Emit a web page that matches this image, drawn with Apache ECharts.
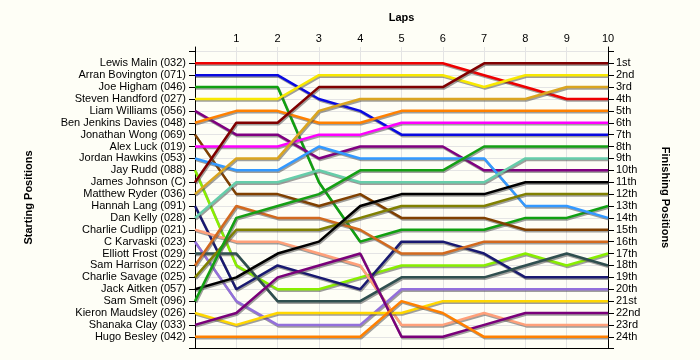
<!DOCTYPE html>
<html>
<head>
<meta charset="utf-8">
<script src="https://cdn.jsdelivr.net/npm/echarts@6/dist/echarts.min.js"></script>
<style>
html,body{margin:0;padding:0;background:#fefef6;}
#chart{width:700px;height:360px;}
</style>
</head>
<body>
<div id="chart"></div>
<script>
const laps = [0,1,2,3,4,5,6,7,8,9,10];
const startNames = [
  'Lewis Malin (032)','Arran Bovington (071)','Joe Higham (046)','Steven Handford (027)',
  'Liam Williams (056)','Ben Jenkins Davies (048)','Jonathan Wong (069)','Alex Luck (019)',
  'Jordan Hawkins (053)','Jay Rudd (088)','James Johnson (C)','Matthew Ryder (036)',
  'Hannah Lang (091)','Dan Kelly (028)','Charlie Cudlipp (021)','C Karvaski (023)',
  'Elliott Frost (029)','Sam Harrison (022)','Charlie Savage (025)','Jack Aitken (057)',
  'Sam Smelt (096)','Kieron Maudsley (026)','Shanaka Clay (033)','Hugo Besley (042)'
];
const finishLabels = ['1st','2nd','3rd','4th','5th','6th','7th','8th','9th','10th','11th','12th',
  '13th','14th','15th','16th','17th','18th','19th','20th','21st','22nd','23rd','24th'];

// positions per lap (lap 0 .. lap 10)
const lewisMalin      = [1,1,1,1,1,1,1,2,3,4,4];
const arranBovington  = [2,2,2,4,5,7,7,7,7,7,7];
const joeHigham       = [3,3,3,11,16,15,15,15,14,14,13];
const stevenHandford  = [4,4,4,2,2,2,2,3,2,2,2];
const liamWilliams    = [5,7,7,9,8,8,8,10,10,10,10];
const benJenkins      = [6,5,5,6,6,5,5,5,5,5,5];
const jonathanWong    = [7,12,12,13,12,14,14,14,15,15,15];
const alexLuck        = [8,8,8,7,7,6,6,6,6,6,6];
const jordanHawkins   = [9,10,10,8,9,9,9,9,13,13,14];
const jayRudd         = [10,18,20,20,19,18,18,18,17,18,17];
const jamesJohnson    = [11,6,6,3,3,3,3,1,1,1,1];
const matthewRyder    = [12,9,9,5,4,4,4,4,4,3,3];
const hannahLang      = [13,20,18,19,20,16,16,17,19,19,19];
const danKelly        = [14,11,11,10,11,11,11,11,9,9,9];
const charlieCudlipp  = [15,16,16,17,18,23,23,22,23,23,23];
const cKarvaski       = [16,21,23,23,23,20,20,20,20,20,20];
const elliottFrost    = [17,17,21,21,21,19,19,19,18,17,18];
const samHarrison     = [18,13,14,14,15,17,17,16,16,16,16];
const charlieSavage   = [19,15,15,15,14,13,13,13,12,12,12];
const jackAitken      = [20,19,17,16,13,12,12,12,11,11,11];
const samSmelt        = [21,14,13,12,10,10,10,8,8,8,8];
const kieronMaudsley  = [22,23,22,22,22,22,21,21,21,21,21];
const shanakaClay     = [23,22,19,18,17,24,24,23,22,22,22];
const hugoBesley      = [24,24,24,24,24,21,22,24,24,24,24];

const driverPositions = [lewisMalin,arranBovington,joeHigham,stevenHandford,liamWilliams,benJenkins,
  jonathanWong,alexLuck,jordanHawkins,jayRudd,jamesJohnson,matthewRyder,hannahLang,danKelly,
  charlieCudlipp,cKarvaski,elliottFrost,samHarrison,charlieSavage,jackAitken,samSmelt,
  kieronMaudsley,shanakaClay,hugoBesley];
const colors = ['#ee0000','#0a0ae0','#10a010','#f8e800','#800080','#ff8000',
  '#804000','#ff00ff','#3399ff','#88ee00','#800000','#daa520',
  '#191970','#66cdaa','#ffa07a','#9370db','#2f4f4f','#d2691e',
  '#808000','#000000','#14a014','#ffd700','#7a007a','#ff8000'];

const font = 'Liberation Sans, Arial, sans-serif';
const series = driverPositions.map((pos, i) => ({
  name: startNames[i],
  type: 'line',
  xAxisIndex: 1,
  yAxisIndex: 2,
  symbol: 'none',
  data: laps.map((l, k) => [l, pos[k]]),
  lineStyle: {
    color: colors[i], width: 2.5,
    shadowColor: 'rgba(80,80,80,0.55)', shadowOffsetX: 1, shadowOffsetY: 1.5, shadowBlur: 0
  },
  itemStyle: {color: colors[i]},
  emphasis: {disabled: true}
}));

const chart = echarts.init(document.getElementById('chart'), null, {renderer: 'canvas'});
chart.setOption({
  backgroundColor: '#fefef6',
  animation: false,
  textStyle: {fontFamily: font},
  grid: [
    {left: 195, right: 92, top: 47, bottom: 12},
    {left: 195, right: 92, top: 51.4, bottom: 11.3}
  ],
  xAxis: [
    {
      type: 'value', gridIndex: 0, position: 'top', min: 0, max: 10, interval: 1,
      name: 'Laps', nameLocation: 'middle', nameGap: 24,
      nameTextStyle: {fontWeight: 'bold', fontSize: 11, color: '#000', fontFamily: font},
      axisLine: {show: true, lineStyle: {color: '#000', width: 1}},
      axisTick: {show: false},
      axisLabel: {show: true, margin: 3, fontSize: 11, color: '#000', fontFamily: font,
        formatter: v => v === 0 ? '' : String(v)},
      splitLine: {show: true, lineStyle: {color: '#e4e4e4', width: 1}}
    },
    {
      type: 'value', gridIndex: 1, min: 0, max: 10, interval: 1, show: false
    }
  ],
  yAxis: [
    {
      type: 'value', gridIndex: 0, position: 'left', min: 0, max: 1,
      name: 'Starting Positions', nameLocation: 'middle', nameGap: 161, nameRotate: 90,
      nameTextStyle: {fontWeight: 'bold', fontSize: 11, color: '#000', fontFamily: font},
      axisLine: {show: true, lineStyle: {color: '#000', width: 1}},
      axisTick: {show: false}, axisLabel: {show: false}, splitLine: {show: false}
    },
    {
      type: 'value', gridIndex: 0, position: 'right', min: 0, max: 1,
      name: 'Finishing Positions', nameLocation: 'middle', nameGap: 52, nameRotate: -90,
      nameTextStyle: {fontWeight: 'bold', fontSize: 11, color: '#000', fontFamily: font},
      axisLine: {show: true, lineStyle: {color: '#000', width: 1}},
      axisTick: {show: false}, axisLabel: {show: false}, splitLine: {show: false}
    },
    {
      type: 'value', gridIndex: 1, position: 'left', inverse: true, min: 0, max: 25, interval: 1,
      axisLine: {show: false},
      axisTick: {show: true, length: 6, lineStyle: {color: '#000'}},
      axisLabel: {show: true, margin: 9, fontSize: 11, color: '#000', fontFamily: font,
        formatter: v => startNames[v - 1] || ''},
      splitLine: {show: true, lineStyle: {color: '#e4e4e4', width: 1}}
    },
    {
      type: 'value', gridIndex: 1, position: 'right', inverse: true, min: 0, max: 25, interval: 1,
      axisLine: {show: false},
      axisTick: {show: true, length: 6, lineStyle: {color: '#000'}},
      axisLabel: {show: true, margin: 8, fontSize: 11, color: '#000', fontFamily: font,
        formatter: v => finishLabels[v - 1] || ''},
      splitLine: {show: false}
    }
  ],
  series: series
});
</script>
</body>
</html>
